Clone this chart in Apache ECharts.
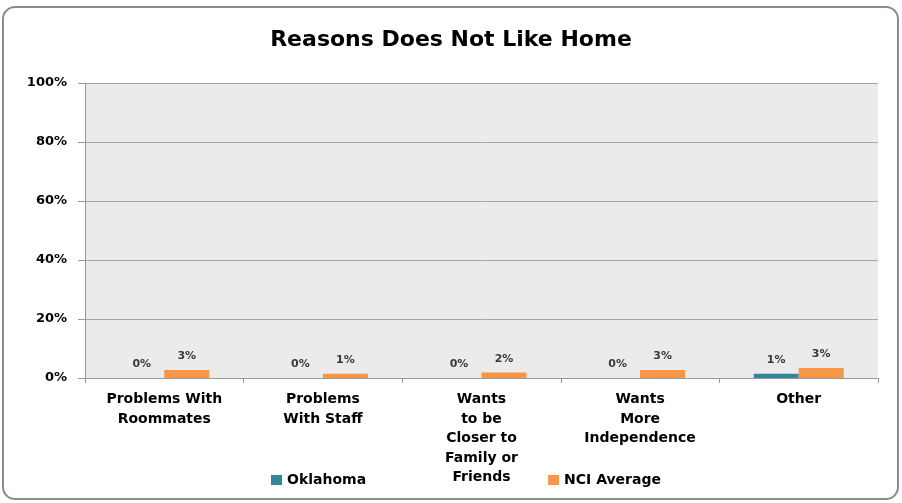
<!DOCTYPE html>
<html>
<head>
<meta charset="utf-8">
<script src="https://cdn.jsdelivr.net/npm/echarts@6/dist/echarts.min.js"></script>
<style>
html,body{margin:0;padding:0;background:#fff;}
#main{width:902px;height:503px;}
</style>
</head>
<body>
<div id="main"></div>
<script>
const categories = ["Problems With\nRoommates", "Problems\nWith Staff", "Wants\nto be\nCloser to\nFamily or\nFriends", "Wants\nMore\nIndependence", "Other"];
const oklahoma = [0, 0, 0, 0, 1.4];
const nciAverage = [2.7, 1.4, 1.9, 2.7, 3.4];
const yTicks = [0, 20, 40, 60, 80, 100];
const seriesNames = ["Oklahoma", "NCI Average"];

const FONT = 'DejaVu Sans';
const chart = echarts.init(document.getElementById('main'));
const labelStyle = {
  show: true, position: 'top', distance: 8,
  fontFamily: FONT, fontWeight: 'bold', fontSize: 11, color: '#3a3a3a',
  formatter: p => Math.round(p.value) + '%'
};
chart.setOption({
  animation: false,
  backgroundColor: '#fff',
  graphic: [{
    type: 'rect', z: -10,
    shape: {x: 3, y: 7, width: 895, height: 492, r: 12},
    style: {fill: '#fff', stroke: '#8c8c8c', lineWidth: 2}
  }],
  title: {
    text: 'Reasons Does Not Like Home',
    left: 'center', top: 24,
    textStyle: {fontFamily: FONT, fontWeight: 'bold', fontSize: 22, color: '#000'}
  },
  legend: {
    bottom: 11, left: 266,
    itemWidth: 11, itemHeight: 10, itemGap: 182,
    icon: 'rect',
    textStyle: {fontFamily: FONT, fontWeight: 'bold', fontSize: 14, color: '#000'},
    data: seriesNames
  },
  grid: {left: 85, right: 24, top: 83, bottom: 125, show: true, backgroundColor: '#ebebeb', borderWidth: 0},
  xAxis: {
    type: 'category', data: categories,
    axisLine: {lineStyle: {color: '#999', width: 1}},
    axisTick: {show: true, length: 5, lineStyle: {color: '#999'}},
    axisLabel: {interval: 0, fontFamily: FONT, fontWeight: 'bold', fontSize: 14, color: '#000', lineHeight: 19.5, margin: 12}
  },
  yAxis: {
    type: 'value', min: yTicks[0], max: yTicks[yTicks.length - 1], interval: 20,
    axisLine: {show: true, lineStyle: {color: '#999'}},
    axisTick: {show: true, length: 7, lineStyle: {color: '#999'}},
    splitLine: {lineStyle: {color: '#a6a6a6', width: 1}},
    axisLabel: {fontFamily: FONT, fontWeight: 'bold', fontSize: 13, color: '#000', margin: 18, formatter: v => v + '%'}
  },
  series: [
    {name: seriesNames[0], type: 'bar', data: oklahoma, barWidth: 45, barGap: '0%', itemStyle: {color: '#31859c'}, label: labelStyle},
    {name: seriesNames[1], type: 'bar', data: nciAverage, barWidth: 45, barGap: '0%', itemStyle: {color: '#f79646'}, label: labelStyle}
  ]
});
</script>
</body>
</html>
